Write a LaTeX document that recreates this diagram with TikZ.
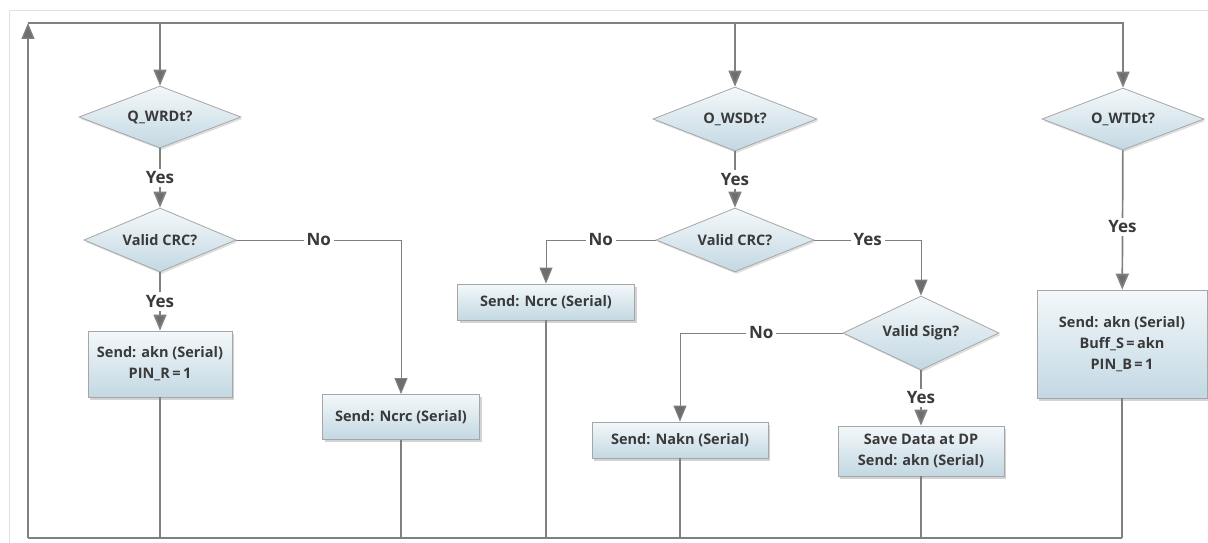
\documentclass[tikz,border=0pt]{standalone}
\usepackage{fontspec}
\setmainfont{Open Sans}
\usetikzlibrary{arrows.meta, shapes.geometric, shadows}

\definecolor{linegray}{HTML}{808080}
\definecolor{tipgray}{HTML}{6E6E6E}
\definecolor{boxtop}{HTML}{F3F8FA}
\definecolor{boxbot}{HTML}{C3D8E3}
\definecolor{txtgray}{HTML}{3A3A3A}
\definecolor{framegray}{HTML}{E0E0E0}

\begin{document}
\begin{tikzpicture}[x=1pt, y=-1pt,
  decision/.style={diamond, aspect=3, inner sep=0pt, draw=gray!70, line width=0.8pt,
    top color=boxtop, bottom color=boxbot, text=txtgray,
    font=\bfseries\fontsize{14.5}{16}\selectfont,
    minimum width=162pt, minimum height=62pt,
    drop shadow={shadow xshift=1.5pt, shadow yshift=-2pt, opacity=0.25}},
  process/.style={rectangle, align=center, inner sep=0pt, draw=gray!70, line width=0.8pt,
    top color=boxtop, bottom color=boxbot, text=txtgray,
    font=\bfseries\fontsize{14.5}{21}\selectfont,
    drop shadow={shadow xshift=2pt, shadow yshift=-2.5pt, opacity=0.35}},
  answer/.style={fill=white, inner sep=3pt, text=txtgray,
    font=\bfseries\fontsize{17}{19}\selectfont},
  flow/.style={draw=linegray, line width=1.7pt,
    -{Triangle[width=13pt, length=16pt, fill=tipgray]}},
  branch/.style={flow, line width=1pt},
  back/.style={draw=linegray, line width=1.3pt}
]
\useasboundingbox (0,0) rectangle (1208,543);

% screen frame
\draw [framegray, line width=1pt] (9,543) -- (9,11) -- (1208,11);

\coordinate (tl) at (28,23);
\coordinate (bl) at (28,538);

% first column
\node [decision] (qwrd) at (160,117) {Q\_WRDt?};
\node [decision, minimum width=152pt, minimum height=64pt] (crcA) at (160,240) {Valid CRC?};
\node [process, minimum width=144pt, minimum height=66pt] (aknA) at (160,364) {Send: akn (Serial)\\PIN\_R\,=\,1};
\node [process, minimum width=157pt, minimum height=45pt] (ncrcA) at (401,417) {Send: Ncrc (Serial)};

% second column
\node [decision, minimum width=164pt, minimum height=64pt] (owsd) at (735,119) {O\_WSDt?};
\node [decision, minimum width=158pt, minimum height=64pt] (crcB) at (735,240) {Valid CRC?};
\node [process, minimum width=177pt, minimum height=36pt] (ncrcB) at (546,302) {Send: Ncrc (Serial)};
\node [decision, minimum width=156pt, minimum height=74pt] (sign) at (921,333) {Valid Sign?};
\node [process, minimum width=176pt, minimum height=36pt] (naknB) at (680,440) {Send: Nakn (Serial)};
\node [process, minimum width=166pt, minimum height=50pt] (saveB) at (921,451) {Save Data at DP\\Send: akn (Serial)};

% third column
\node [decision] (owtd) at (1123,119) {O\_WTDt?};
\node [process, minimum width=170pt, minimum height=108pt] (aknC) at (1122,344) {Send: akn (Serial)\\Buff\_S\,=\,akn\\PIN\_B\,=\,1};

\draw [flow] (tl -| qwrd) -- (qwrd);
\draw [flow] (qwrd) -- node [answer] {Yes} (crcA);
\draw [flow] (crcA) -- node [answer] {Yes} (aknA);
\draw [branch] (crcA) -| node [answer, pos=0.25] {No} (ncrcA);

\draw [flow] (tl -| owsd) -- (owsd);
\draw [flow] (owsd) -- node [answer] {Yes} (crcB);
\draw [branch] (crcB) -| node [answer, pos=0.25] {No} (ncrcB);
\draw [branch] (crcB) -| node [answer, pos=0.25] {Yes} (sign);
\draw [branch] (sign) -| node [answer, pos=0.25] {No} (naknB);
\draw [flow] (sign) -- node [answer] {Yes} (saveB);

\draw [flow] (tl) -| (owtd);
\draw [flow] (owtd) -- node [answer, pos=0.55] {Yes} (aknC);

% back to the start
\foreach \n in {aknA, ncrcA, ncrcB, naknB, saveB, aknC}
{
  \draw [back] (\n) -- (\n |- bl);
}
\draw [back] (aknC |- bl) -- (bl);
\draw [flow, line width=1.3pt] (bl) -- (tl);
\end{tikzpicture}
\end{document}
